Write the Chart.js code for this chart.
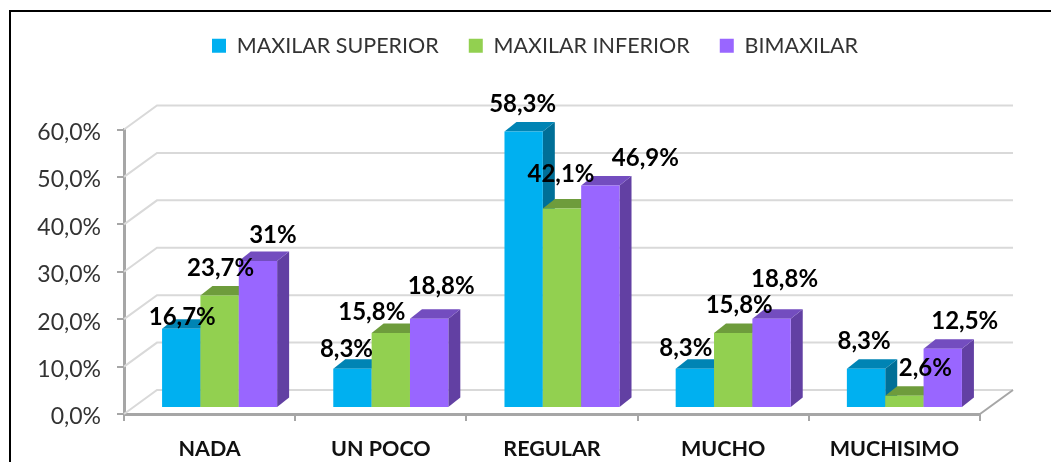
<!DOCTYPE html>
<html>
<head>
<meta charset="utf-8">
<script src="https://cdn.jsdelivr.net/npm/chart.js@4/dist/chart.umd.min.js"></script>
<style>
html, body { margin: 0; background: #fff; overflow: hidden; }
#marco { position: absolute; left: 9px; top: 10px; width: 1200px; height: 600px; border: 2px solid #000; }
#lienzo { position: absolute; left: 0; top: 0; }
</style>
</head>
<body>
<div id="marco"></div>
<canvas id="lienzo" width="1051" height="462"></canvas>
<script>
const categorias = ['NADA', 'UN POCO', 'REGULAR', 'MUCHO', 'MUCHISIMO']
const maxilarSuperior = [16.7, 8.3, 58.3, 8.3, 8.3]
const maxilarInferior = [23.7, 15.8, 42.1, 15.8, 2.6]
const bimaxilar = [31, 18.8, 46.9, 18.8, 12.5]
const etiquetasY = ['0,0%', '10,0%', '20,0%', '30,0%', '40,0%', '50,0%', '60,0%']

// desplazamiento de cada etiqueta respecto al centro y tope de su barra
const ajusteEtiquetas = [
    [[1, -12], [-6, -19], [-1, -27], [-9, -20], [-2, -27]],
    [[1, -27], [-19, -21], [-1, -34], [6, -28], [21, -27]],
    [[15, -26], [12, -33], [45, -27], [13, -40], [22, -27]]
]

const caras = [
    { tope: '#0084B4', lado: '#006F97' },
    { tope: '#6E9C3C', lado: '#5F8734' },
    { tope: '#734DBF', lado: '#6240A3' }
]

const fuente = 'Lato'
const fondoX = 33, fondoY = -24     // profundidad de las paredes
const barraX = 12, barraY = -9.5    // profundidad de las barras
const subeX = 10, subeY = -6        // las barras se apoyan en medio del piso

const pisoYParedes = {
    id: 'pisoYParedes',
    afterLayout(chart) {
        // la leyenda va centrada en otro punto que el area del grafico
        const l = chart.legend
        l.left += 33
        l.right += 33
        l.top -= 63
        l.bottom -= 63
        l.adjustHitBoxes()
    },
    beforeDatasetsDraw(chart) {
        const { ctx, scales: { x, y } } = chart
        ctx.save()
        ctx.strokeStyle = '#D9D9D9'
        ctx.lineWidth = 2
        y.ticks.forEach(t => {
            const py = y.getPixelForValue(t.value)
            ctx.beginPath()
            ctx.moveTo(x.left, py)
            ctx.lineTo(x.left + fondoX, py + fondoY)
            ctx.lineTo(x.right + fondoX, py + fondoY)
            ctx.stroke()
        })
        const base = y.getPixelForValue(0)
        ctx.strokeStyle = '#A6A6A6'
        ctx.beginPath()
        ctx.moveTo(x.right, base)
        ctx.lineTo(x.right + fondoX, base + fondoY)
        ctx.stroke()
        ctx.restore()
    }
}

const barras3d = {
    id: 'barras3d',
    // se dibuja aqui para que cada serie tape el lado de la anterior
    beforeDatasetDraw() {
        return false
    },
    beforeDatasetsDraw(chart) {
        const ctx = chart.ctx
        chart.data.datasets.forEach((ds, i) => {
            const meta = chart.getDatasetMeta(i)
            const c = caras[i]
            ctx.save()
            ctx.translate(subeX, subeY)
            meta.data.forEach(b => {
                const izq = b.x - b.width / 2, der = b.x + b.width / 2
                ctx.fillStyle = c.lado
                ctx.beginPath()
                ctx.moveTo(der, b.y)
                ctx.lineTo(der + barraX, b.y + barraY)
                ctx.lineTo(der + barraX, b.base + barraY)
                ctx.lineTo(der, b.base)
                ctx.fill()
                ctx.fillStyle = c.tope
                ctx.beginPath()
                ctx.moveTo(izq, b.y)
                ctx.lineTo(izq + barraX, b.y + barraY)
                ctx.lineTo(der + barraX, b.y + barraY)
                ctx.lineTo(der, b.y)
                ctx.fill()
            })
            meta.controller.draw()
            ctx.restore()
        })
    },
    afterDatasetsDraw(chart) {
        const ctx = chart.ctx
        ctx.save()
        ctx.font = 'bold 24px ' + fuente
        ctx.fillStyle = '#000'
        ctx.textAlign = 'center'
        ctx.textBaseline = 'middle'
        chart.data.datasets.forEach((ds, i) => {
            chart.getDatasetMeta(i).data.forEach((b, j) => {
                const [ax, ay] = ajusteEtiquetas[i][j]
                const texto = String(ds.data[j]).replace('.', ',') + '%'
                ctx.fillText(texto, b.x + subeX + ax, b.y + subeY + ay)
            })
        })
        ctx.restore()
    }
}

new Chart(document.getElementById('lienzo'), {
    type: 'bar',
    data: {
        labels: categorias,
        datasets: [
            { label: 'MAXILAR SUPERIOR', data: maxilarSuperior, backgroundColor: '#00B0F0' },
            { label: 'MAXILAR INFERIOR', data: maxilarInferior, backgroundColor: '#92D050' },
            { label: 'BIMAXILAR', data: bimaxilar, backgroundColor: '#9966FF' }
        ]
    },
    options: {
        responsive: false,
        animation: false,
        layout: { padding: { left: 24, right: 71, top: 68, bottom: 0 } },
        datasets: { bar: { categoryPercentage: 0.672, barPercentage: 1 } },
        plugins: {
            tooltip: { enabled: false },
            legend: {
                position: 'top',
                labels: {
                    boxWidth: 14, boxHeight: 14, padding: 30,
                    color: '#333333',
                    font: { family: fuente, size: 21.5 }
                }
            }
        },
        scales: {
            x: {
                afterFit(s) { s.height = 48 },
                grid: { offset: true, drawOnChartArea: false, color: '#A6A6A6', lineWidth: 2, tickLength: 7 },
                border: { color: '#A6A6A6', width: 3 },
                ticks: { color: '#111111', padding: 15, font: { family: fuente, size: 21.5, weight: 'bold' } }
            },
            y: {
                min: 0,
                max: 60,
                afterFit(s) { s.width = 100 },
                grid: { drawOnChartArea: false, color: '#A6A6A6', lineWidth: 2, tickLength: 7 },
                border: { color: '#A6A6A6', width: 3 },
                ticks: {
                    stepSize: 10,
                    color: '#333333',
                    padding: 16,
                    labelOffset: 3,
                    font: { family: fuente, size: 23 },
                    callback: (v, i) => etiquetasY[i]
                }
            }
        }
    },
    plugins: [pisoYParedes, barras3d]
})
</script>
</body>
</html>
